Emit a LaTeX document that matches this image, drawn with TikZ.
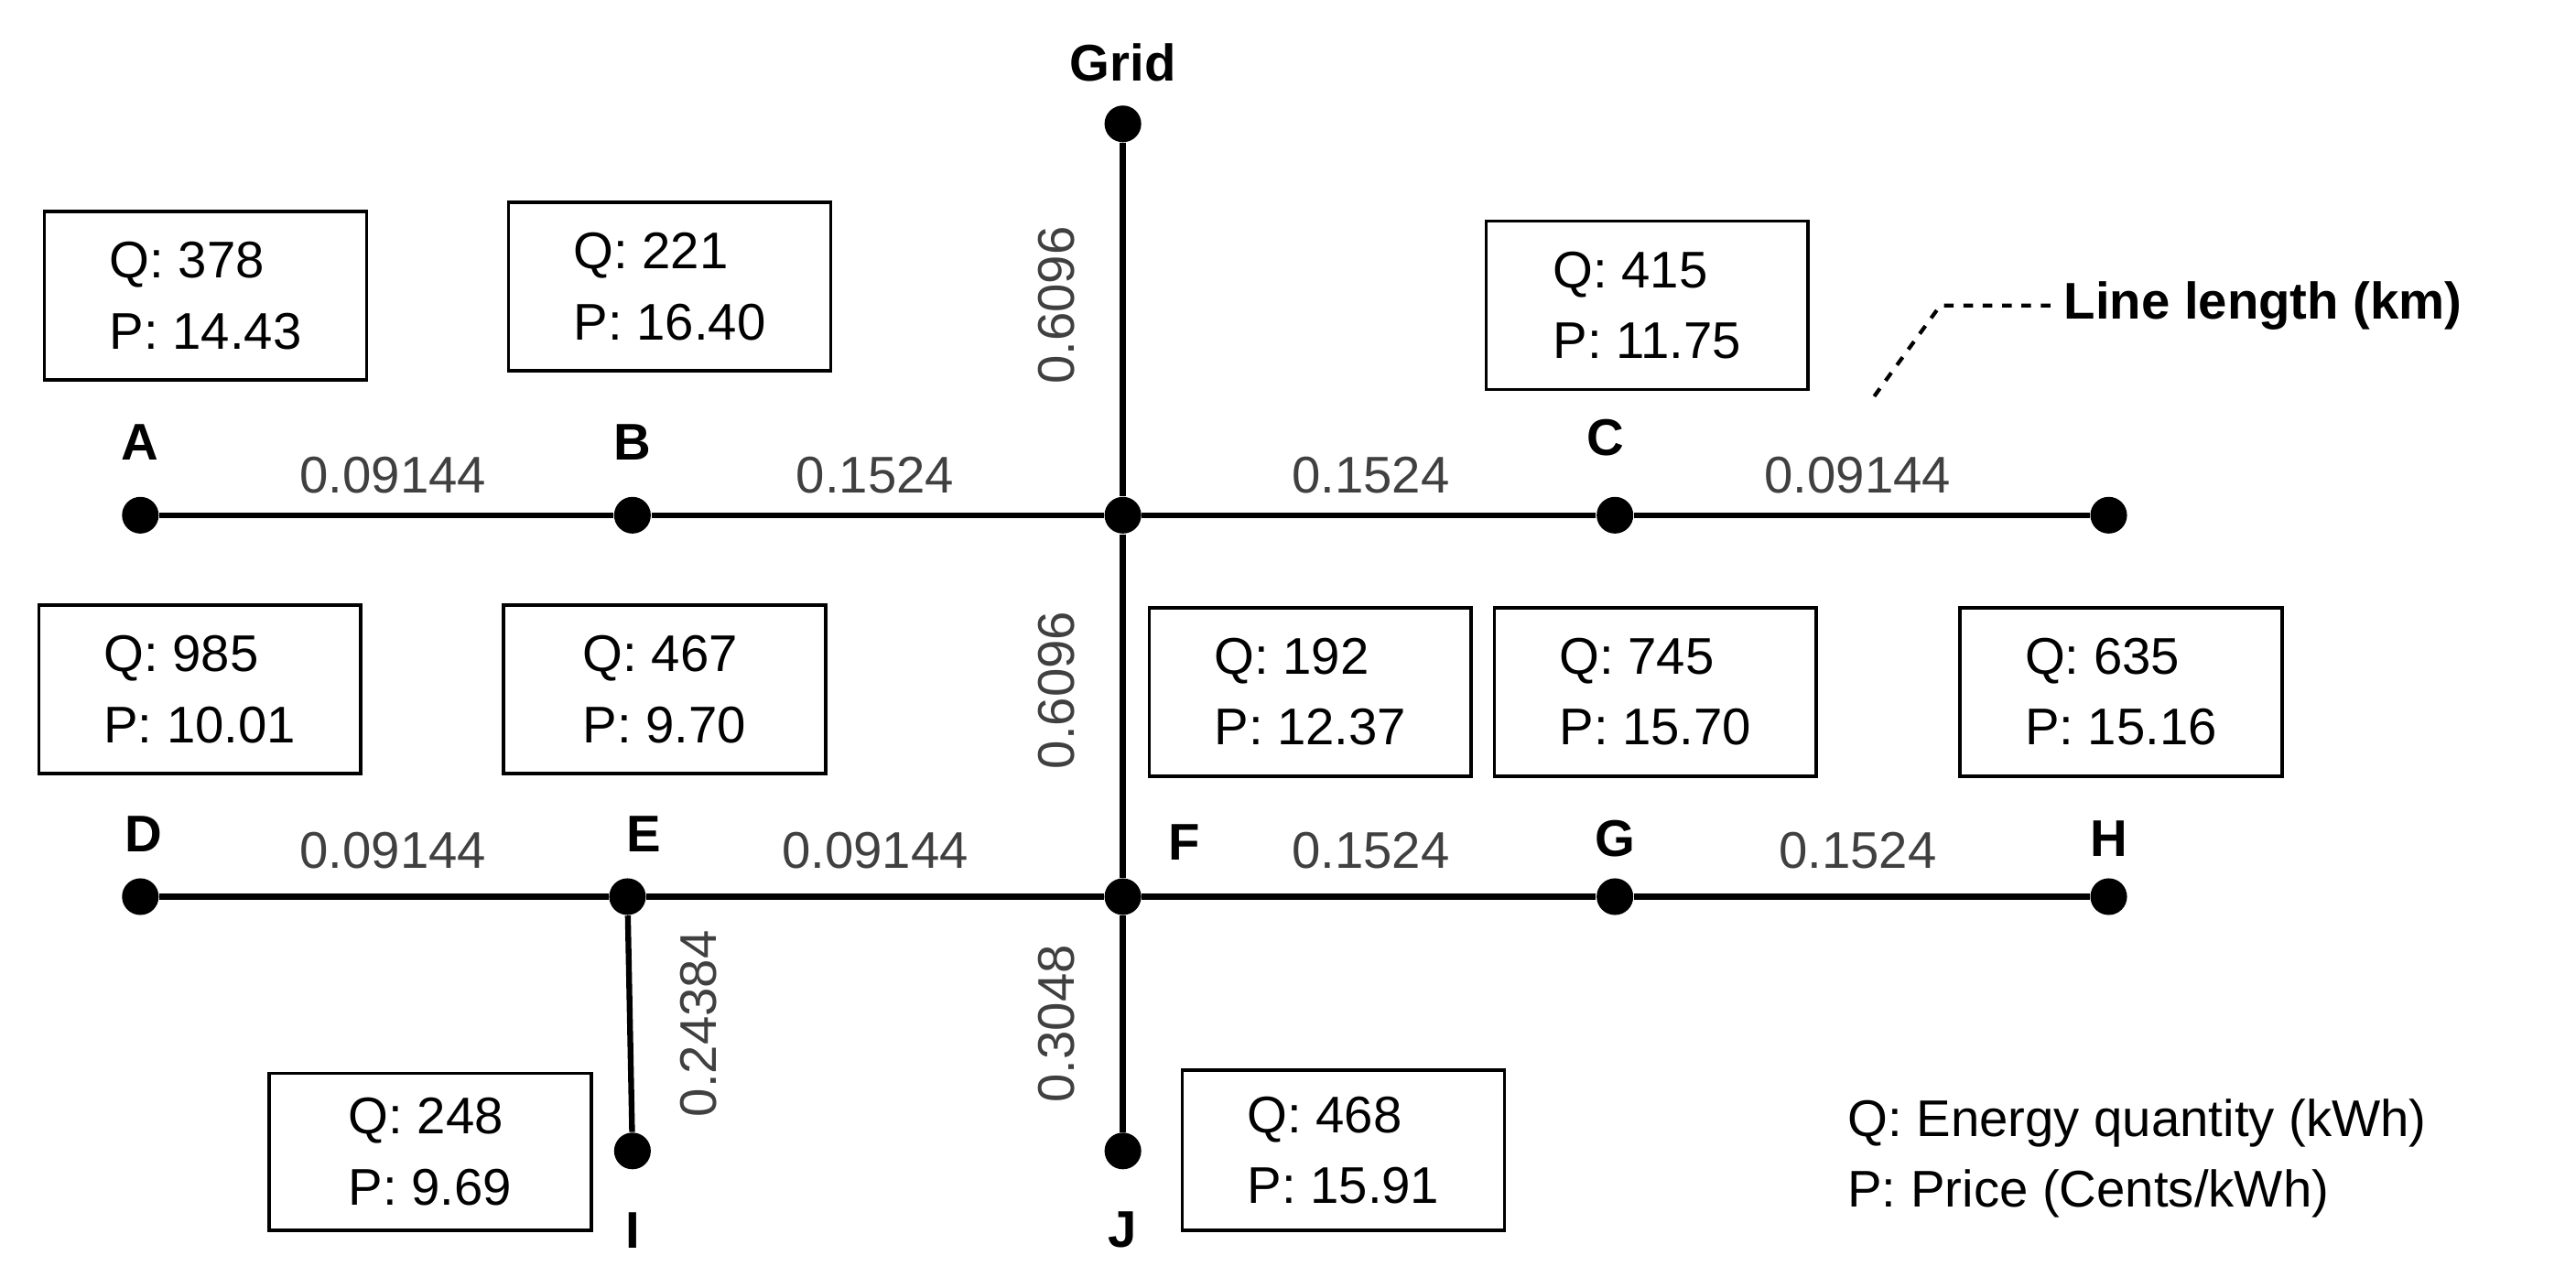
\documentclass[tikz,border=0pt]{standalone}
\usepackage{fontspec}
\setmainfont{Liberation Sans}
\begin{document}
\begin{tikzpicture}[x=0.018cm,y=-0.018cm,
  dot/.style={circle,fill=black,inner sep=0pt,minimum size=0.4cm},
  ln/.style={line width=1.8pt},
  lbl/.style={font=\fontsize{16}{18}\selectfont\bfseries},
  len/.style={font=\fontsize{16}{18}\selectfont,text=black!75},
  qbox/.style={draw,line width=1pt,minimum width=195*0.018cm,minimum height=102*0.018cm,align=left,font=\fontsize{16}{22}\selectfont}]
\useasboundingbox (0,0) rectangle (1560,780);
\node[dot] (grid) at (680,75) {};
\node[lbl] (gridl) at (680,38) {Grid};
\node[dot] (A) at (85,312) {};
\node[dot] (B) at (383,312) {};
\node[dot] (X) at (680,312) {};
\node[dot] (C) at (978,312) {};
\node[dot] (R) at (1277,312) {};
\node[dot] (D) at (85,543) {};
\node[dot] (E) at (380,543) {};
\node[dot] (F) at (680,543) {};
\node[dot] (G) at (978,543) {};
\node[dot] (H) at (1277,543) {};
\node[dot] (I) at (383,697) {};
\node[dot] (J) at (680,697) {};
\draw[ln] (grid) -- (X) -- (F) -- (J);
\draw[ln] (A) -- (B) -- (X) -- (C) -- (R);
\draw[ln] (D) -- (E) -- (F) -- (G) -- (H);
\draw[ln] (E) -- (I);
\node[lbl] (Al) at (85,268) {A};
\node[lbl] (Bl) at (383,268) {B};
\node[lbl] (Cl) at (972,265) {C};
\node[lbl] (Dl) at (87,505) {D};
\node[lbl] (El) at (390,505) {E};
\node[lbl] (Fl) at (717,510) {F};
\node[lbl] (Gl) at (978,508) {G};
\node[lbl] (Hl) at (1277,508) {H};
\node[lbl] (Il) at (383,745) {I};
\node[lbl] (Jl) at (680,745) {J};
\node[len] (l1) at (238,288) {0.09144};
\node[len] (l2) at (530,288) {0.1524};
\node[len] (l3) at (830,288) {0.1524};
\node[len] (l4) at (1125,288) {0.09144};
\node[len] (l5) at (238,515) {0.09144};
\node[len] (l6) at (530,515) {0.09144};
\node[len] (l7) at (830,515) {0.1524};
\node[len] (l8) at (1125,515) {0.1524};
\node[len,rotate=90] (l9) at (640,185) {0.6096};
\node[len,rotate=90] (l10) at (640,418) {0.6096};
\node[len,rotate=90] (l11) at (423,620) {0.24384};
\node[len,rotate=90] (l12) at (640,620) {0.3048};
\node[qbox] (bA) at (124.5,179) {Q: 378\\P: 14.43};
\node[qbox] (bB) at (405.5,173.5) {Q: 221\\P: 16.40};
\node[qbox] (bC) at (997.5,185) {Q: 415\\P: 11.75};
\node[qbox] (bD) at (121,417.5) {Q: 985\\P: 10.01};
\node[qbox] (bE) at (402.5,417.5) {Q: 467\\P: 9.70};
\node[qbox] (bF) at (793.5,419) {Q: 192\\P: 12.37};
\node[qbox] (bG) at (1002.5,419) {Q: 745\\P: 15.70};
\node[qbox] (bH) at (1284.5,419) {Q: 635\\P: 15.16};
\node[qbox,minimum height=95*0.018cm] (bI) at (260.5,697.5) {Q: 248\\P: 9.69};
\node[qbox,minimum height=97*0.018cm] (bJ) at (813.5,696.5) {Q: 468\\P: 15.91};
\node[lbl,anchor=west] (leg) at (1243,185) {Line length (km)};
\coordinate (lg1) at (1135,240);
\coordinate (lg2) at (1175,185);
\draw[dashed,line width=1.2pt] (lg1) -- (lg2) -- (leg.west);
\node[anchor=west,font=\fontsize{16}{18}\selectfont] (q) at (1112,680) {Q: Energy quantity (kWh)};
\node[anchor=west,font=\fontsize{16}{18}\selectfont] (p) at (1112,723) {P: Price (Cents/kWh)};
\end{tikzpicture}
\end{document}
